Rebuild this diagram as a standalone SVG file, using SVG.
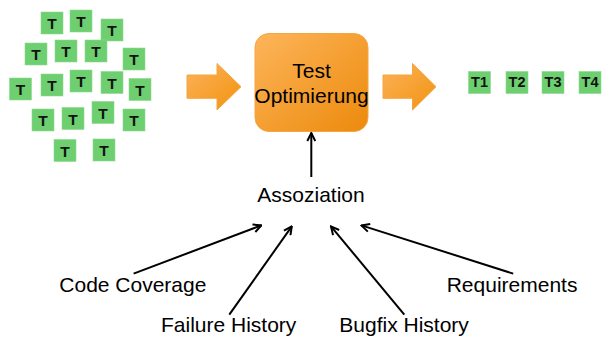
<svg xmlns="http://www.w3.org/2000/svg" width="602" height="337" viewBox="0 0 602 337">
<defs>
<linearGradient id="og" x1="0" y1="0" x2="1" y2="1">
<stop offset="0" stop-color="#FDB55A"/>
<stop offset="1" stop-color="#EC8A0C"/>
</linearGradient>
<linearGradient id="ag" x1="0" y1="0" x2="1" y2="1">
<stop offset="0" stop-color="#FDB25A"/>
<stop offset="1" stop-color="#F0930F"/>
</linearGradient>
<marker id="open" viewBox="0 0 10 10" refX="9" refY="5" markerWidth="10" markerHeight="10" markerUnits="userSpaceOnUse" orient="auto">
<path d="M1,1 L9,5 L1,9" fill="none" stroke="#000" stroke-width="2"/>
</marker>
</defs>
<style>
.t rect{fill:#6DCF6F;stroke:#8EDB8E;stroke-width:0.6}
.t text{font-family:"Liberation Sans",Arial,sans-serif;font-weight:bold;font-size:15.5px;fill:#111;text-anchor:middle}
#ordered .t text{font-size:14.5px}
.lbl{font-family:"Liberation Sans",Arial,sans-serif;font-size:21px;fill:#000}
.con{stroke:#000;stroke-width:2;fill:none;marker-end:url(#open)}
.arr{fill:url(#ag);stroke:#F6A640;stroke-width:1}
</style>
<rect width="602" height="337" fill="#fff"/>
<g id="tests">
<g class="t"><rect x="41" y="12" width="22" height="22"/><text x="52" y="29.3">T</text></g>
<g class="t"><rect x="70" y="10" width="22" height="22"/><text x="81" y="27.3">T</text></g>
<g class="t"><rect x="101" y="19" width="22" height="22"/><text x="112" y="36.3">T</text></g>
<g class="t"><rect x="25" y="43" width="22" height="22"/><text x="36" y="60.3">T</text></g>
<g class="t"><rect x="55" y="40" width="22" height="22"/><text x="66" y="57.3">T</text></g>
<g class="t"><rect x="85" y="40" width="22" height="22"/><text x="96" y="57.3">T</text></g>
<g class="t"><rect x="123" y="48" width="22" height="22"/><text x="134" y="65.3">T</text></g>
<g class="t"><rect x="9.5" y="78" width="22" height="22"/><text x="20.5" y="95.3">T</text></g>
<g class="t"><rect x="41" y="74" width="22" height="22"/><text x="52" y="91.3">T</text></g>
<g class="t"><rect x="70" y="70" width="22" height="22"/><text x="81" y="87.3">T</text></g>
<g class="t"><rect x="101" y="71.5" width="22" height="22"/><text x="112" y="88.8">T</text></g>
<g class="t"><rect x="129" y="78.5" width="22" height="22"/><text x="140" y="95.8">T</text></g>
<g class="t"><rect x="32" y="109" width="22" height="22"/><text x="43" y="126.3">T</text></g>
<g class="t"><rect x="62" y="107.5" width="22" height="22"/><text x="73" y="124.8">T</text></g>
<g class="t"><rect x="92" y="101.5" width="22" height="22"/><text x="103" y="118.8">T</text></g>
<g class="t"><rect x="123" y="109" width="22" height="22"/><text x="134" y="126.3">T</text></g>
<g class="t"><rect x="54" y="139.5" width="22" height="22"/><text x="65" y="156.8">T</text></g>
<g class="t"><rect x="93" y="139" width="22" height="22"/><text x="104" y="156.3">T</text></g>
</g>
<g id="arrow-in"><path class="arr" d="M187,75 H217 V63.5 L241,86.7 L217,110 V98.3 H187 Z"/></g>
<g id="optimierung">
<rect x="255" y="33.5" width="113" height="98" rx="14" fill="url(#og)" stroke="#F6A640" stroke-width="1"/>
<text class="lbl" x="311.5" y="78" text-anchor="middle">Test</text>
<text class="lbl" x="311.5" y="103" text-anchor="middle">Optimierung</text>
</g>
<g id="arrow-out"><path class="arr" d="M383,75 H412.5 V63.5 L436,86.7 L412.5,110 V98.3 H383 Z"/></g>
<g id="ordered">
<g class="t"><rect x="468.5" y="71.5" width="22" height="22"/><text x="479.5" y="87.3">T1</text></g>
<g class="t"><rect x="506" y="71.5" width="22" height="22"/><text x="517" y="87.3">T2</text></g>
<g class="t"><rect x="542" y="71.5" width="22" height="22"/><text x="553" y="87.3">T3</text></g>
<g class="t"><rect x="579" y="71.5" width="22" height="22"/><text x="590" y="87.3">T4</text></g>
</g>
<g id="assoziation"><text class="lbl" x="311" y="202.3" text-anchor="middle">Assoziation</text></g>
<g id="code-coverage"><text class="lbl" x="59.3" y="291.7">Code Coverage</text></g>
<g id="failure-history"><text class="lbl" x="161" y="331.7">Failure History</text></g>
<g id="bugfix-history"><text class="lbl" x="339.3" y="331.7">Bugfix History</text></g>
<g id="requirements"><text class="lbl" x="446.7" y="292">Requirements</text></g>
<g id="connectors">
<line class="con" x1="311.3" y1="177" x2="311.3" y2="133"/>
<line class="con" x1="133.6" y1="273.6" x2="261.4" y2="225.4"/>
<line class="con" x1="229.3" y1="314.6" x2="291.8" y2="226.4"/>
<line class="con" x1="404.3" y1="314.6" x2="331" y2="226.4"/>
<line class="con" x1="513.2" y1="273.6" x2="361.4" y2="225.4"/>
</g>
</svg>
